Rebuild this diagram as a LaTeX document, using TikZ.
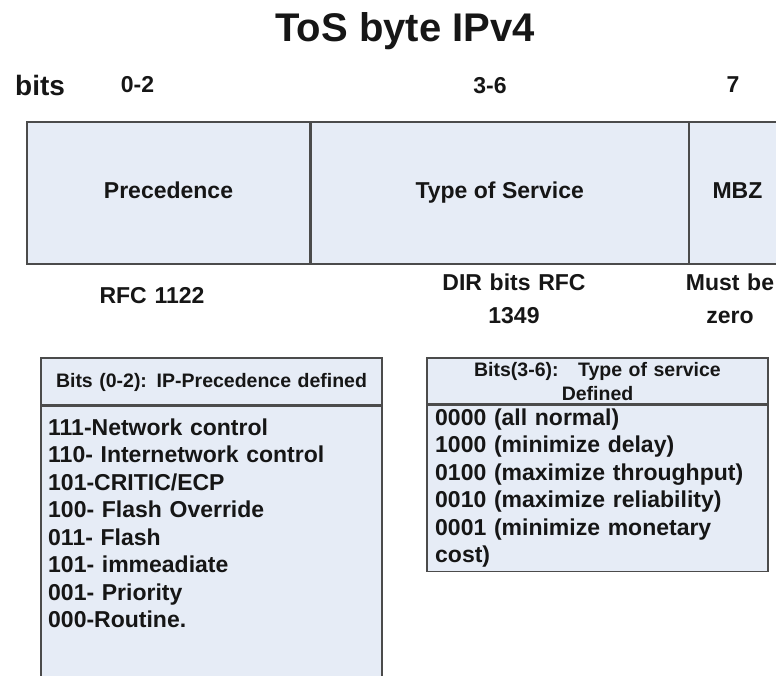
\documentclass[tikz,border=0pt]{standalone}
\usepackage{fontspec}
\setmainfont{Liberation Sans}
\usetikzlibrary{positioning}
\definecolor{cellfill}{RGB}{230,236,246}
\definecolor{rimgray}{RGB}{75,75,75}
\definecolor{inkblack}{RGB}{22,22,22}
\tikzset{field/.style={draw=rimgray, line width=1.2pt, fill=cellfill, minimum height=142pt, inner sep=0pt, text height=10pt, text depth=0pt, text=inkblack, font=\bfseries\fontsize{23}{27}\selectfont},
  tablebox/.style={draw=rimgray, line width=1.3pt, fill=cellfill, inner sep=0pt, minimum width=341pt},
  bitno/.style={anchor=base, inner sep=0pt, text=inkblack, font=\bfseries\fontsize{23}{27}\selectfont},
  note/.style={anchor=base, inner sep=0pt, text width=140pt, align=center, text=inkblack, font=\bfseries\fontsize{23}{33}\selectfont},
  headtext/.style={anchor=base, inner sep=0pt, text width=330pt, align=center, text=inkblack, font=\bfseries\fontsize{19.5}{24}\selectfont},
  listtext/.style={anchor=base west, inner sep=0pt, text width=330pt, align=left, text=inkblack, font=\bfseries\fontsize{23}{27.5}\selectfont}}
\begin{document}
\begin{tikzpicture}[x=1pt,y=-1pt]
    \useasboundingbox (0,0) rectangle (776,675);
    \clip (0,0) rectangle (776,675);

    \node[bitno, font=\bfseries\fontsize{40}{44}\selectfont] (title) at (405,41) {ToS byte IPv4};
    \node[bitno, anchor=base west, font=\bfseries\fontsize{28}{32}\selectfont] (bits) at (15,95) {bits};
    \node[bitno]                (r02) at (137.5,92) {0-2};
    \node[bitno]                (r36) at (490,93)   {3-6};
    \node[bitno]                (r7)  at (733,92)   {7};

    \node[field, minimum width=283pt]               (prec) at (168.5,193) {Precedence};
    \node[field, minimum width=377pt, right=0pt of prec] (tos)  {Type of Service};
    \node[field, minimum width=96pt, right=0pt of tos]   (mbz)  {MBZ};

    \node[note]                 (rfc)  at (152,303) {RFC 1122};
    \node[note, text width=160pt] (dir) at (514,290) {DIR bits RFC\\1349};
    \node[note, text width=100pt] (must) at (730,290) {Must be\\zero};

    \node[tablebox, minimum height=47pt]                     (prechead) at (211.5,381.5) {};
    \node[tablebox, minimum height=285pt, below=0pt of prechead] (precbody) {};
    \node[tablebox, minimum height=46pt]                     (toshead)  at (597.5,381) {};
    \node[tablebox, minimum height=166pt, below=0pt of toshead]  (tosbody)  {};

    \node[headtext] (precheadtext) at (211.5,387) {Bits (0-2): IP-Precedence defined};
    \node[headtext] (tosheadtext)  at (597.5,376) {Bits(3-6):\ \ \ Type of service\\Defined};

    \node[listtext] (preclist) at (48,435) {111-Network control\\110- Internetwork control\\101-CRITIC/ECP\\100- Flash Override\\011- Flash\\101- immeadiate\\001- Priority\\000-Routine.};
    \node[listtext] (toslist)  at (435,425) {0000 (all normal)\\1000 (minimize delay)\\0100 (maximize throughput)\\0010 (maximize reliability)\\0001 (minimize monetary\\cost)};
\end{tikzpicture}
\end{document}
